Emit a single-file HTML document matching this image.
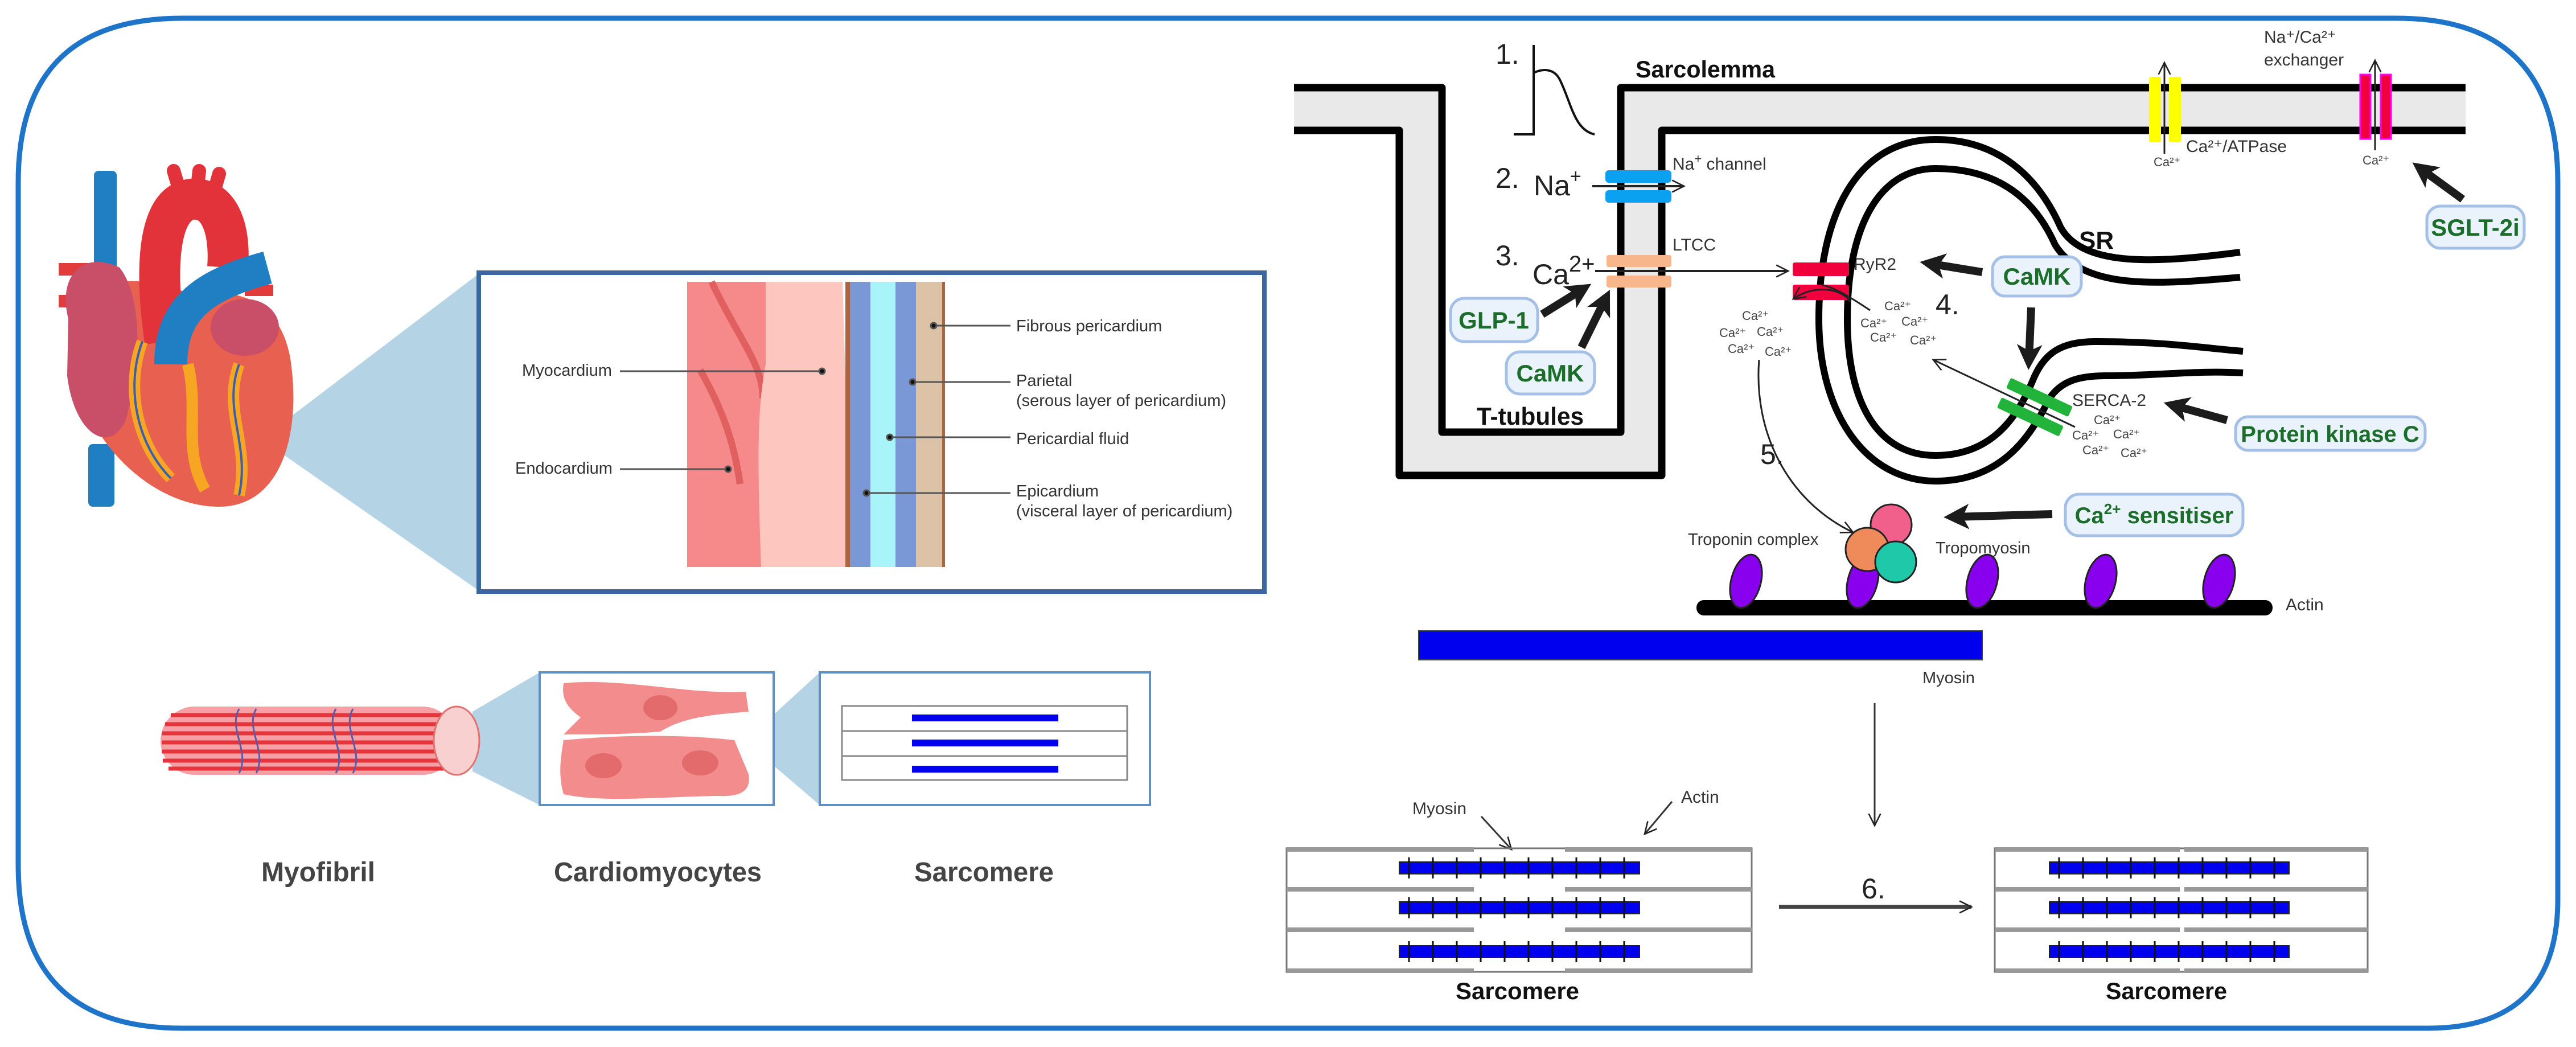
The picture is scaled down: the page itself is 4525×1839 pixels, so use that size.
<!DOCTYPE html>
<html><head><meta charset="utf-8"><style>
html,body{margin:0;padding:0;background:#fff}
svg{display:block}
text{font-family:"Liberation Sans",sans-serif}
</style></head><body>
<svg width="4525" height="1839" viewBox="0 0 4525 1839" xmlns="http://www.w3.org/2000/svg">
<defs>
<marker id="ah2" viewBox="0 0 10 10" refX="9" refY="5" markerWidth="26" markerHeight="26" orient="auto" markerUnits="userSpaceOnUse"><path d="M1,1 L9,5 L1,9" fill="none" stroke="#222" stroke-width="1"/></marker>
<marker id="big" viewBox="0 0 10 10" refX="6" refY="5" markerWidth="3.2" markerHeight="3.2" orient="auto"><path d="M0,0 L10,5 L0,10 L2.5,5 Z" fill="#1c1c1c"/></marker>
</defs>

<!-- outer frame -->
<path d="M320,32 L4210,32 Q4493,32 4493,320 L4493,1580 Q4493,1806 4265,1806 L320,1806 Q32,1806 32,1520 L32,320 Q32,32 320,32 Z" fill="#fff" stroke="#1e74c8" stroke-width="9"/>

<!-- ===== LEFT PANEL ===== -->
<polygon points="500,740 842,480 842,1038 500,800" fill="#b4d3e5"/>
<!-- heart -->
<g>
<rect x="165" y="300" width="40" height="340" rx="8" fill="#1f7fc2"/>
<rect x="155" y="780" width="46" height="110" rx="8" fill="#1f7fc2"/>
<rect x="103" y="462" width="70" height="22" fill="#e23b3b"/>
<rect x="103" y="518" width="70" height="22" fill="#e23b3b"/>
<rect x="430" y="500" width="50" height="20" fill="#e23b3b"/>
<path d="M130,560 C100,720 240,890 385,890 C495,890 530,760 510,630 C495,540 430,500 340,520 C260,480 150,480 130,560 Z" fill="#e8604f"/>
<path d="M120,560 C100,480 150,440 210,470 C250,520 250,640 220,740 C190,800 130,760 118,660 Z" fill="#c94e68"/>
<ellipse cx="430" cy="575" rx="60" ry="50" fill="#c94e68"/>
<path d="M290,600 C270,460 280,360 335,350 C385,345 405,400 400,470" fill="none" stroke="#e2333b" stroke-width="72"/>
<path d="M320,350 L305,300 M345,345 L350,300 M372,350 L385,305" stroke="#e2333b" stroke-width="24" stroke-linecap="round"/>
<path d="M300,640 C300,540 360,500 470,470" fill="none" stroke="#1f7fc2" stroke-width="58"/>
<path d="M250,600 C220,680 240,780 300,840 M330,640 C350,720 320,790 360,860 M420,640 C390,720 440,780 420,870" fill="none" stroke="#f7a623" stroke-width="20"/>
<path d="M250,600 C220,680 240,780 300,840 M420,640 C390,720 440,780 420,870" fill="none" stroke="#3a5fb0" stroke-width="4"/>
</g>

<!-- pericardium box -->
<rect x="841" y="479" width="1380" height="560" fill="#fff" stroke="#3a67a0" stroke-width="8"/>
<rect x="1207" y="495" width="140" height="501" fill="#f68a8a"/>
<path d="M1250,495 C1300,600 1340,640 1340,700 M1230,650 C1270,720 1290,780 1300,850" stroke="#e06060" stroke-width="12" fill="none"/>
<path d="M1345,495 L1345,640 C1330,720 1330,800 1337,996 L1495,996 L1480,495 Z" fill="#fdc6be"/>
<rect x="1485" y="495" width="8" height="501" fill="#b0643c"/>
<rect x="1493" y="495" width="36" height="501" fill="#7a98d6"/>
<rect x="1529" y="495" width="44" height="501" fill="#a8f4f8"/>
<rect x="1573" y="495" width="36" height="501" fill="#7a98d6"/>
<rect x="1609" y="495" width="50" height="501" fill="#dcc3a8"/>
<rect x="1655" y="495" width="5" height="501" fill="#b0643c"/>
<g stroke="#555" stroke-width="3" fill="#111">
<line x1="1089" y1="652" x2="1444" y2="652"/><circle cx="1444" cy="652" r="5"/>
<line x1="1089" y1="824" x2="1279" y2="824"/><circle cx="1279" cy="824" r="5"/>
<line x1="1640" y1="572" x2="1775" y2="572"/><circle cx="1640" cy="572" r="5"/>
<line x1="1603" y1="671" x2="1775" y2="671"/><circle cx="1603" cy="671" r="5"/>
<line x1="1563" y1="768" x2="1775" y2="768"/><circle cx="1563" cy="768" r="5"/>
<line x1="1522" y1="866" x2="1775" y2="866"/><circle cx="1522" cy="866" r="5"/>
</g>
<g font-size="29" fill="#333">
<text x="917" y="660">Myocardium</text>
<text x="905" y="832">Endocardium</text>
<text x="1785" y="582">Fibrous pericardium</text>
<text x="1785" y="678">Parietal</text>
<text x="1785" y="713">(serous layer of pericardium)</text>
<text x="1785" y="780">Pericardial fluid</text>
<text x="1785" y="872">Epicardium</text>
<text x="1785" y="907">(visceral layer of  pericardium)</text>
</g>

<!-- myofibril -->
<polygon points="830,1250 948,1181 948,1414 830,1355" fill="#b4d3e5"/>
<polygon points="1310,1300 1440,1181 1440,1414 1330,1320" fill="#b4d3e5"/>
<rect x="282" y="1241" width="520" height="120" rx="60" fill="#f4a0a4"/>
<g stroke="#e4343c" stroke-width="7">
<line x1="300" y1="1256" x2="790" y2="1256"/><line x1="290" y1="1272" x2="790" y2="1272"/><line x1="285" y1="1288" x2="790" y2="1288"/><line x1="284" y1="1304" x2="790" y2="1304"/><line x1="284" y1="1320" x2="790" y2="1320"/><line x1="286" y1="1336" x2="790" y2="1336"/><line x1="296" y1="1350" x2="790" y2="1350"/>
</g>
<path d="M420,1245 C400,1280 440,1320 420,1358 M590,1245 C570,1280 610,1320 590,1358 M620,1245 C600,1280 640,1320 620,1358 M450,1245 C430,1280 470,1320 450,1358" stroke="#5a5aa8" stroke-width="3" fill="none"/>
<ellipse cx="802" cy="1301" rx="40" ry="60" fill="#f8d0d0" stroke="#e47070" stroke-width="3"/>
<!-- cardio box -->
<rect x="948" y="1181" width="411" height="233" fill="#fff" stroke="#5f8fc4" stroke-width="4"/>
<path d="M990,1200 C1100,1190 1200,1220 1310,1215 L1315,1250 C1250,1255 1200,1260 1160,1285 C1100,1290 1050,1290 990,1290 L1020,1260 C1000,1245 985,1230 990,1200 Z" fill="#f38c8c"/>
<path d="M990,1300 C1100,1290 1200,1290 1290,1300 L1315,1360 C1320,1390 1300,1400 1260,1398 C1150,1400 1060,1410 990,1395 C980,1360 985,1330 990,1300 Z" fill="#f38c8c"/>
<ellipse cx="1160" cy="1243" rx="30" ry="22" fill="#e36b6b"/>
<ellipse cx="1060" cy="1345" rx="32" ry="22" fill="#e36b6b"/>
<ellipse cx="1230" cy="1340" rx="32" ry="22" fill="#e36b6b"/>
<!-- sarcomere small box -->
<rect x="1440" y="1181" width="580" height="233" fill="#fff" stroke="#5f8fc4" stroke-width="4"/>
<g stroke="#888" stroke-width="3" fill="none">
<rect x="1479" y="1240" width="501" height="130"/>
<line x1="1479" y1="1284" x2="1980" y2="1284"/><line x1="1479" y1="1328" x2="1980" y2="1328"/>
</g>
<g stroke="#0000ee" stroke-width="12">
<line x1="1602" y1="1261" x2="1859" y2="1261"/><line x1="1602" y1="1305" x2="1859" y2="1305"/><line x1="1602" y1="1351" x2="1859" y2="1351"/>
</g>
<g font-size="48" font-weight="bold" fill="#444">
<text x="459" y="1548" textLength="200" lengthAdjust="spacingAndGlyphs">Myofibril</text>
<text x="973" y="1548" textLength="365" lengthAdjust="spacingAndGlyphs">Cardiomyocytes</text>
<text x="1606" y="1548" textLength="245" lengthAdjust="spacingAndGlyphs">Sarcomere</text>
</g>

<!-- ===== RIGHT PANEL ===== -->
<path d="M2273,154 L2533,154 L2533,759 L2847,759 L2847,154 L4331,154 L4331,229 L2919,229 L2919,835 L2458,835 L2458,229 L2273,229 Z" fill="#e9e9e9"/>
<g fill="none" stroke="#000" stroke-width="13" stroke-linejoin="round">
<path d="M2273,154 L2533,154 L2533,759 L2847,759 L2847,154 L4331,154"/>
<path d="M2273,229 L2458,229 L2458,835 L2919,835 L2919,229 L4331,229"/>
</g>
<path d="M2659,236 L2694,236 L2694,79 M2694,128 C2710,120 2730,120 2740,140 C2760,180 2765,228 2801,236" fill="none" stroke="#111" stroke-width="4"/>
<g font-size="50" fill="#222">
<text x="2627" y="112">1.</text>
<text x="2627" y="330">2.</text>
<text x="2627" y="466">3.</text>
<text x="3400" y="552">4.</text>
<text x="3092" y="815">5.</text>
<text x="3270" y="1578">6.</text>
<text x="2694" y="343">Na<tspan font-size="34" dy="-22">+</tspan></text>
<text x="2692" y="499">Ca<tspan font-size="40" dy="-22">2+</tspan></text>
</g>
<text x="2873" y="136" font-size="42" font-weight="bold" fill="#111" textLength="245" lengthAdjust="spacingAndGlyphs">Sarcolemma</text>
<text x="2594" y="746" font-size="44" font-weight="bold" fill="#111" textLength="188" lengthAdjust="spacingAndGlyphs">T-tubules</text>
<text x="3652" y="437" font-size="44" font-weight="bold" fill="#111">SR</text>
<rect x="2820" y="299" width="116" height="22" rx="6" fill="#0aa2f0"/>
<rect x="2820" y="334" width="116" height="22" rx="6" fill="#0aa2f0"/>
<line x1="2797" y1="327" x2="2958" y2="327" stroke="#222" stroke-width="4" marker-end="url(#ah2)"/>
<rect x="2822" y="448" width="114" height="21" rx="4" fill="#f8b68c"/>
<rect x="2822" y="484" width="114" height="21" rx="4" fill="#f8b68c"/>
<line x1="2802" y1="476" x2="3141" y2="476" stroke="#222" stroke-width="4" marker-end="url(#ah2)"/>
<g font-size="30" fill="#333">
<text x="2938" y="298">Na<tspan font-size="22" dy="-12">+</tspan><tspan dy="12"> channel</tspan></text>
<text x="2938" y="440">LTCC</text>
<text x="3256" y="474">RyR2</text>
<text x="3640" y="713">SERCA-2</text>
<text x="3840" y="267">Ca²⁺/ATPase</text>
<text x="3977" y="75">Na⁺/Ca²⁺</text>
<text x="3977" y="115">exchanger</text>
<text x="2965" y="957" font-size="29">Troponin complex</text>
<text x="3400" y="972" font-size="29">Tropomyosin</text>
<text x="4015" y="1072">Actin</text>
<text x="3377" y="1200" font-size="29">Myosin</text>
<text x="2481" y="1430">Myosin</text>
<text x="2953" y="1410">Actin</text>
</g>
<g fill="none" stroke="#000" stroke-width="12">
<path d="M3935,443 C3790,462 3660,470 3620,400 C3580,310 3510,245 3400,245 C3260,245 3195,380 3195,560 C3195,730 3280,845 3400,845 C3520,845 3570,760 3600,700 C3620,670 3650,660 3700,660 C3790,660 3860,650 3940,655"/>
<path d="M3935,487 C3790,500 3660,510 3610,430 C3570,340 3500,296 3400,296 C3300,296 3245,400 3245,560 C3245,710 3300,800 3400,800 C3500,800 3545,730 3570,670 C3590,620 3620,600 3680,600 C3800,600 3860,610 3940,617"/>
</g>
<rect x="3149" y="461" width="99" height="24" rx="4" fill="#f0003c"/>
<rect x="3149" y="500" width="99" height="27" rx="4" fill="#f0003c"/>
<path d="M3250,530 C3235,505 3185,500 3150,525" fill="none" stroke="#222" stroke-width="3" marker-end="url(#ah2)"/>
<path d="M3200,500 C3220,505 3240,515 3285,545" fill="none" stroke="#222" stroke-width="3"/>
<g transform="translate(3574,716) rotate(25)">
<rect x="-60" y="-30" width="120" height="20" rx="3" fill="#22b33a"/>
<rect x="-60" y="8" width="120" height="20" rx="3" fill="#22b33a"/>
</g>
<line x1="3645" y1="750" x2="3396" y2="632" stroke="#222" stroke-width="3" marker-end="url(#ah2)"/>
<g font-size="22" fill="#444">
<text x="3060" y="562">Ca²⁺</text><text x="3020" y="592">Ca²⁺</text><text x="3086" y="590">Ca²⁺</text><text x="3035" y="620">Ca²⁺</text><text x="3100" y="625">Ca²⁺</text>
<text x="3310" y="545">Ca²⁺</text><text x="3268" y="575">Ca²⁺</text><text x="3340" y="572">Ca²⁺</text><text x="3285" y="600">Ca²⁺</text><text x="3355" y="605">Ca²⁺</text>
<text x="3678" y="745">Ca²⁺</text><text x="3640" y="772">Ca²⁺</text><text x="3712" y="770">Ca²⁺</text><text x="3658" y="798">Ca²⁺</text><text x="3725" y="803">Ca²⁺</text>
<text x="3783" y="292">Ca²⁺</text><text x="4150" y="289">Ca²⁺</text>
</g>
<rect x="3775" y="135" width="21" height="115" rx="3" fill="#ffff00"/>
<rect x="3810" y="135" width="21" height="115" rx="3" fill="#ffff00"/>
<line x1="3802" y1="270" x2="3802" y2="110" stroke="#222" stroke-width="3" marker-end="url(#ah2)"/>
<rect x="4146" y="131" width="18" height="113" fill="#f0003c" stroke="#f0f" stroke-width="3"/>
<rect x="4182" y="131" width="18" height="113" fill="#f0003c" stroke="#f0f" stroke-width="3"/>
<line x1="4172" y1="264" x2="4172" y2="106" stroke="#222" stroke-width="3" marker-end="url(#ah2)"/>
<path d="M3090,632 C3080,760 3140,880 3255,935" fill="none" stroke="#222" stroke-width="3" marker-end="url(#ah2)"/>
<g stroke="#1c1c1c" stroke-width="14" marker-end="url(#big)" fill="none">
<line x1="2709" y1="552" x2="2780" y2="508"/>
<line x1="2778" y1="610" x2="2820" y2="525"/>
<line x1="3482" y1="478" x2="3390" y2="463"/>
<line x1="3568" y1="540" x2="3564" y2="632"/>
<line x1="3912" y1="738" x2="3818" y2="712"/>
<line x1="3605" y1="903" x2="3432" y2="908"/>
<line x1="4326" y1="350" x2="4252" y2="296"/>
</g>
<g fill="#eaf2fb" stroke="#a4c0e6" stroke-width="5">
<rect x="2548" y="524" width="153" height="76" rx="24"/>
<rect x="2646" y="618" width="155" height="74" rx="24"/>
<rect x="3500" y="451" width="156" height="69" rx="22"/>
<rect x="4263" y="362" width="171" height="74" rx="24"/>
<rect x="3927" y="732" width="333" height="59" rx="22"/>
<rect x="3628" y="868" width="312" height="73" rx="24"/>
</g>
<g font-size="42" font-weight="bold" fill="#1a6e2a" text-anchor="middle">
<text x="2624" y="577">GLP-1</text>
<text x="2723" y="670">CaMK</text>
<text x="3578" y="500">CaMK</text>
<text x="4348" y="414">SGLT-2i</text>
<text x="4093" y="776" font-size="40">Protein kinase C</text>
<text x="3784" y="919" font-size="40">Ca<tspan font-size="26" dy="-16">2+</tspan><tspan dy="16"> sensitiser</tspan></text>
</g>
<rect x="2980" y="1054" width="1012" height="27" rx="13" fill="#000"/>
<g fill="#8800ee" stroke="#222" stroke-width="3">
<ellipse cx="3067" cy="1021" rx="26" ry="48" transform="rotate(15 3067 1021)"/>
<ellipse cx="3272" cy="1021" rx="26" ry="48" transform="rotate(15 3272 1021)"/>
<ellipse cx="3482" cy="1021" rx="26" ry="48" transform="rotate(15 3482 1021)"/>
<ellipse cx="3690" cy="1021" rx="26" ry="48" transform="rotate(15 3690 1021)"/>
<ellipse cx="3898" cy="1021" rx="26" ry="48" transform="rotate(15 3898 1021)"/>
</g>
<g stroke="#222" stroke-width="3">
<circle cx="3322" cy="922" r="36" fill="#f0608a"/>
<circle cx="3280" cy="965" r="38" fill="#ef8a5a"/>
<circle cx="3330" cy="987" r="36" fill="#1ec8a8"/>
</g>
<rect x="2492" y="1108" width="990" height="51" fill="#0000ee" stroke="#444" stroke-width="2"/>
<line x1="3293" y1="1235" x2="3293" y2="1450" stroke="#333" stroke-width="3" marker-end="url(#ah2)"/>
<line x1="3125" y1="1593" x2="3463" y2="1593" stroke="#444" stroke-width="7" marker-end="url(#ah2)"/>
<line x1="2602" y1="1434" x2="2655" y2="1492" stroke="#333" stroke-width="3" marker-end="url(#ah2)"/>
<line x1="2937" y1="1408" x2="2889" y2="1465" stroke="#333" stroke-width="3" marker-end="url(#ah2)"/>
<g stroke="#777" stroke-width="3" fill="none">
<rect x="2260" y="1490" width="817" height="217"/>
<rect x="3504" y="1490" width="655" height="217"/>
</g>
<g stroke="#999" stroke-width="8">
<line x1="2260" y1="1492" x2="2589" y2="1492"/><line x1="2749" y1="1492" x2="3077" y2="1492"/>
<line x1="2260" y1="1562" x2="2589" y2="1562"/><line x1="2749" y1="1562" x2="3077" y2="1562"/>
<line x1="2260" y1="1633" x2="2589" y2="1633"/><line x1="2749" y1="1633" x2="3077" y2="1633"/>
<line x1="2260" y1="1705" x2="2589" y2="1705"/><line x1="2749" y1="1705" x2="3077" y2="1705"/>
<line x1="3504" y1="1492" x2="3829" y2="1492"/><line x1="3837" y1="1492" x2="4159" y2="1492"/>
<line x1="3504" y1="1562" x2="3829" y2="1562"/><line x1="3837" y1="1562" x2="4159" y2="1562"/>
<line x1="3504" y1="1633" x2="3829" y2="1633"/><line x1="3837" y1="1633" x2="4159" y2="1633"/>
<line x1="3504" y1="1705" x2="3829" y2="1705"/><line x1="3837" y1="1705" x2="4159" y2="1705"/>
</g>
<g fill="#0000ee" stroke="#222" stroke-width="2">
<rect x="2458" y="1514" width="422" height="21"/><rect x="2458" y="1584" width="422" height="21"/><rect x="2458" y="1661" width="422" height="21"/>
<rect x="3600" y="1514" width="421" height="21"/><rect x="3600" y="1584" width="421" height="21"/><rect x="3600" y="1661" width="421" height="21"/>
</g>
<g stroke="#111" stroke-width="3">
<path d="M2475,1506v37M2517,1506v37M2559,1506v37M2601,1506v37M2643,1506v37M2685,1506v37M2727,1506v37M2769,1506v37M2811,1506v37M2853,1506v37"/>
<path d="M2475,1576v37M2517,1576v37M2559,1576v37M2601,1576v37M2643,1576v37M2685,1576v37M2727,1576v37M2769,1576v37M2811,1576v37M2853,1576v37"/>
<path d="M2475,1653v37M2517,1653v37M2559,1653v37M2601,1653v37M2643,1653v37M2685,1653v37M2727,1653v37M2769,1653v37M2811,1653v37M2853,1653v37"/>
<path d="M3617,1506v37M3659,1506v37M3701,1506v37M3743,1506v37M3785,1506v37M3827,1506v37M3869,1506v37M3911,1506v37M3953,1506v37M3995,1506v37"/>
<path d="M3617,1576v37M3659,1576v37M3701,1576v37M3743,1576v37M3785,1576v37M3827,1576v37M3869,1576v37M3911,1576v37M3953,1576v37M3995,1576v37"/>
<path d="M3617,1653v37M3659,1653v37M3701,1653v37M3743,1653v37M3785,1653v37M3827,1653v37M3869,1653v37M3911,1653v37M3953,1653v37M3995,1653v37"/>
</g>
<g font-size="42" font-weight="bold" fill="#111">
<text x="2557" y="1755" textLength="217" lengthAdjust="spacingAndGlyphs">Sarcomere</text>
<text x="3699" y="1755" textLength="213" lengthAdjust="spacingAndGlyphs">Sarcomere</text>
</g>
</svg>
</body></html>
